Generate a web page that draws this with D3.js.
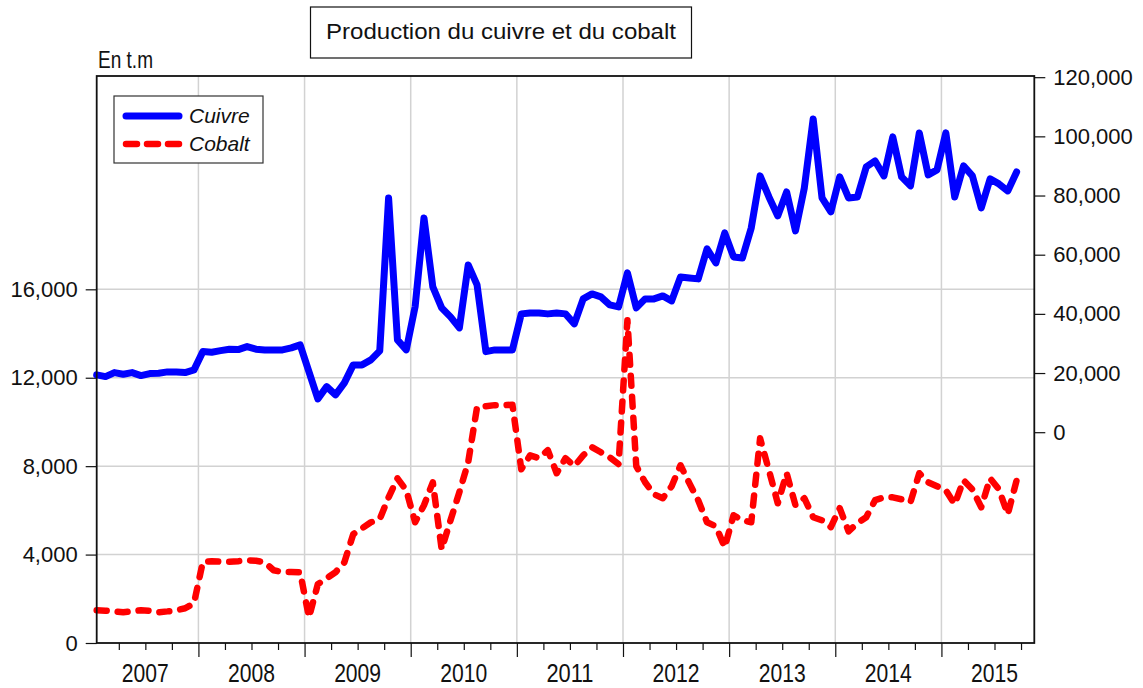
<!DOCTYPE html>
<html>
<head>
<meta charset="utf-8">
<script src="https://cdn.jsdelivr.net/npm/d3@7/dist/d3.min.js"></script>
<style>
  body { margin: 0; background: #fff; }
  svg text { font-family: "Liberation Sans Narrow", "Arial Narrow", "Liberation Sans", Arial, sans-serif; fill: #111; }
</style>
</head>
<body>
<div id="chart"></div>
<script>
// monthly series, jan 2007 -> sep 2015
let startYear = 2007;
let yearLabels = ["2007", "2008", "2009", "2010", "2011", "2012", "2013", "2014", "2015"];
let leftTicks = [0, 4000, 8000, 12000, 16000];
let rightTicks = [0, 20000, 40000, 60000, 80000, 100000, 120000];
let seriesNames = ["Cuivre", "Cobalt"];

// copper, right axis (t)
let cuivre = [
  19370, 18790, 20150, 19600, 20150, 19130, 19810, 19940, 20380, 20380, 20150, 21060,
  27240, 27040, 27580, 28050, 27920, 28930, 28050, 27820, 27820, 27820, 28490, 29510,
  20380, 11260, 15410, 12610, 16660, 22750, 22750, 24440, 27480, 79190, 31200, 27820,
  42450, 72430, 49110, 42010, 38970, 35250, 56550, 49790, 27240, 27820, 27820, 27820,
  39990, 40320, 40320, 39990, 40320, 39990, 36610, 45060, 46750, 45730, 43030, 42350,
  53840, 42010, 45060, 45060, 46070, 44380, 52490, 52150, 51820, 61960, 57220, 67360,
  59250, 58910, 69050, 86630, 79530, 73110, 81220, 68040, 82570, 105900, 79190, 74460,
  86290, 79190, 79530, 89670, 91700, 86630, 99810, 86290, 83250, 101160, 86970, 88660,
  101160, 79530, 90010, 86630, 75810, 85620, 83930, 81560, 87980
];

// cobalt, left axis (t)
let cobalt = [
  1480, 1460, 1430, 1390, 1430, 1480, 1460, 1390, 1430, 1480, 1570, 1800,
  3670, 3700, 3680, 3680, 3700, 3740, 3720, 3650, 3290, 3210, 3210, 3200,
  1160, 2660, 2930, 3200, 3650, 4920, 5190, 5460, 5600, 6590, 7450, 6910,
  5460, 6230, 7270, 4240, 5550, 6820, 8180, 10670, 10710, 10760, 10760, 10780,
  7860, 8490, 8360, 8720, 7680, 8360, 8000, 8490, 8860, 8630, 8400, 8090,
  14600, 8000, 7270, 6730, 6550, 7090, 8040, 7230, 6460, 5460, 5280, 4330,
  5780, 5550, 5460, 9260, 7810, 6320, 7680, 6230, 6550, 5690, 5550, 5240,
  6100, 5050, 5420, 5690, 6460, 6590, 6590, 6500, 6370, 7680, 7270, 7090,
  6910, 6280, 7360, 6950, 6140, 7450, 6950, 5820, 7360
];

let width = 1143, height = 688;
// plot box (top is a window global, so prefix everything)
let plotL = 96.7, plotR = 1034.3, plotT = 76, plotB = 643;
let fmtNum = d3.format(",");

let svg = d3.select("#chart").append("svg")
    .attr("width", width)
    .attr("height", height);

// x is month index from jan of startYear; nov 2015 sits on the right edge
let x = d3.scaleLinear().domain([0, 106]).range([plotL, plotR]);
let yLeft = d3.scaleLinear().domain([0, 25650]).range([plotB, plotT]);
let yRight = d3.scaleLinear().domain([-71250, 120400]).range([plotB, plotT]);

let yearBounds = d3.range(1, yearLabels.length).map(k => 12 * k - 0.5);
let quarterBounds = d3.range(0, 36).map(q => 3 * q + 2.5).filter(v => v < 106);

// grid
svg.append("g").selectAll("line")
  .data(yearBounds)
  .join("line")
    .attr("x1", d => x(d)).attr("x2", d => x(d))
    .attr("y1", plotT).attr("y2", plotB)
    .attr("stroke", "#d2d2d2")
    .attr("stroke-width", 1.5);

svg.append("g").selectAll("line")
  .data(leftTicks.filter(d => d > 0))
  .join("line")
    .attr("x1", plotL).attr("x2", plotR)
    .attr("y1", d => yLeft(d)).attr("y2", d => yLeft(d))
    .attr("stroke", "#d2d2d2")
    .attr("stroke-width", 1.5);

// axes
function styleAxis(g) {
  g.select(".domain").remove();
  g.attr("font-family", null).attr("font-size", null);
  g.selectAll(".tick line").attr("stroke", "#111").attr("stroke-width", 1.2);
  g.selectAll(".tick text").attr("font-size", 22).attr("fill", "#111");
}

svg.append("g")
    .attr("transform", `translate(${plotL},0)`)
    .call(d3.axisLeft(yLeft).tickValues(leftTicks).tickSize(11).tickPadding(8).tickFormat(fmtNum))
    .call(styleAxis);

svg.append("g")
    .attr("transform", `translate(${plotR},0)`)
    .call(d3.axisRight(yRight).tickValues(rightTicks).tickSize(11).tickPadding(8).tickFormat(fmtNum))
    .call(styleAxis);

let xAxis = svg.append("g")
    .attr("transform", `translate(0,${plotB})`)
    .call(d3.axisBottom(x).tickValues(quarterBounds).tickSize(7).tickFormat(""))
    .call(styleAxis);
xAxis.selectAll(".tick line")
    .attr("y2", d => yearBounds.includes(d) ? 14 : 7);

// year labels are tall and narrow in the original, squeeze them a bit
svg.append("g").selectAll("text")
  .data(yearLabels)
  .join("text")
    .attr("x", (d, i) => x(12 * i + 5.5))
    .attr("y", 682)
    .attr("text-anchor", "middle")
    .attr("font-size", 25)
    .attr("textLength", 47)
    .attr("lengthAdjust", "spacingAndGlyphs")
    .text(d => d);

// lines
let line = (yScale) => d3.line()
    .x((d, i) => x(i))
    .y(d => yScale(d));

svg.append("path")
    .datum(cobalt)
    .attr("fill", "none")
    .attr("stroke", "#ff0000")
    .attr("stroke-width", 6.5)
    .attr("stroke-linecap", "round")
    .attr("stroke-linejoin", "round")
    .attr("stroke-dasharray", "10,11")
    .attr("d", line(yLeft));

svg.append("path")
    .datum(cuivre)
    .attr("fill", "none")
    .attr("stroke", "#0000ff")
    .attr("stroke-width", 7)
    .attr("stroke-linecap", "round")
    .attr("stroke-linejoin", "round")
    .attr("d", line(yRight));

// frame
svg.append("rect")
    .attr("x", plotL).attr("y", plotT)
    .attr("width", plotR - plotL).attr("height", plotB - plotT)
    .attr("fill", "none")
    .attr("stroke", "#111")
    .attr("stroke-width", 1.8);

// legend
let legend = svg.append("g");
legend.append("rect")
    .attr("x", 114).attr("y", 96)
    .attr("width", 149).attr("height", 67)
    .attr("fill", "#fff")
    .attr("stroke", "#333")
    .attr("stroke-width", 1.2);

let legendStyles = [
  { color: "#0000ff", dash: null, w: 7 },
  { color: "#ff0000", dash: "11,10", w: 6.5 }
];
seriesNames.forEach((name, i) => {
  let ly = 116 + i * 28;
  legend.append("line")
      .attr("x1", 126).attr("x2", 179)
      .attr("y1", ly).attr("y2", ly)
      .attr("stroke", legendStyles[i].color)
      .attr("stroke-width", legendStyles[i].w)
      .attr("stroke-linecap", "round")
      .attr("stroke-dasharray", legendStyles[i].dash);
  legend.append("text")
      .attr("x", 189).attr("y", ly + 7)
      .attr("font-size", 21)
      .attr("font-style", "italic")
      .text(name);
});

// title box
svg.append("rect")
    .attr("x", 310.5).attr("y", 7)
    .attr("width", 381).attr("height", 51)
    .attr("fill", "#fff")
    .attr("stroke", "#111")
    .attr("stroke-width", 1.2);
svg.append("text")
    .attr("x", 501).attr("y", 38.5)
    .attr("text-anchor", "middle")
    .attr("font-size", 22)
    .attr("textLength", 350)
    .attr("lengthAdjust", "spacingAndGlyphs")
    .text("Production du cuivre et du cobalt");

svg.append("text")
    .attr("x", 98).attr("y", 68)
    .attr("font-size", 23)
    .attr("textLength", 55)
    .attr("lengthAdjust", "spacingAndGlyphs")
    .text("En t.m");
</script>
</body>
</html>
